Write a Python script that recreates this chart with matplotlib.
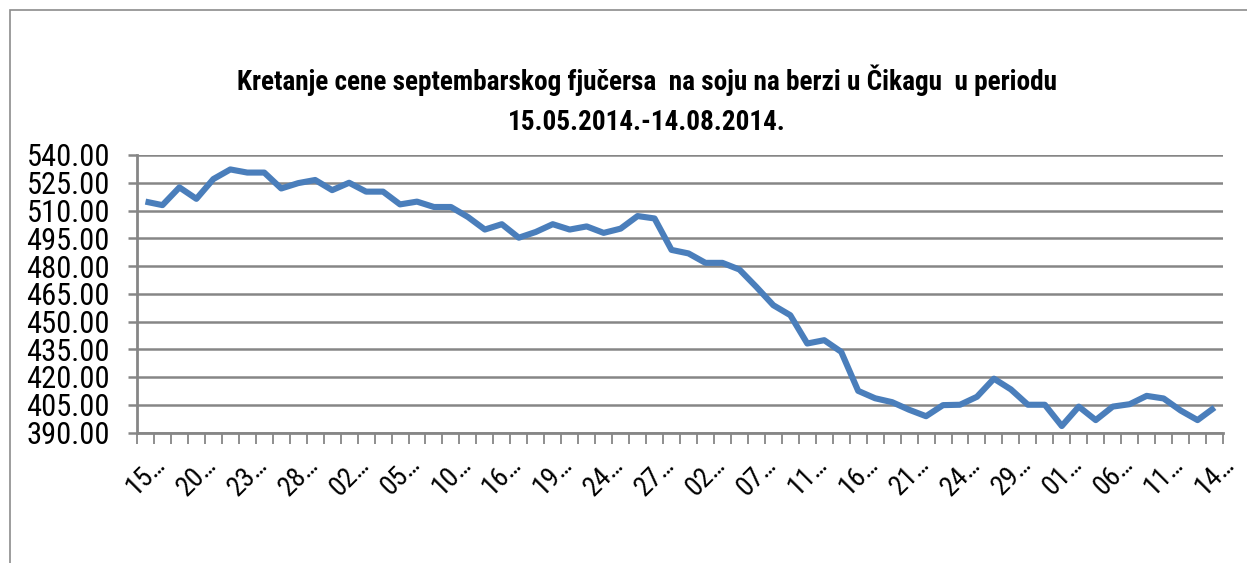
import matplotlib
matplotlib.use("Agg")
import matplotlib.pyplot as plt
from matplotlib import font_manager as fm
from matplotlib.patches import Rectangle
from matplotlib.ticker import FormatStrFormatter, FixedLocator
from matplotlib.transforms import ScaledTranslation

# look for a narrow face (the original uses a condensed Calibri look)
fams = {f.name for f in fm.fontManager.ttflist}
narrow = None
for cand in ["Liberation Sans Narrow", "Arial Narrow", "Roboto Condensed",
             "Open Sans Condensed", "DejaVu Sans Condensed"]:
    if cand in fams:
        narrow = cand
        break
stretch = "normal"
if narrow is None:
    for f in fm.fontManager.ttflist:
        if f.name == "DejaVu Sans" and f.stretch == "condensed":
            narrow, stretch = "DejaVu Sans", "condensed"
            break
if narrow is None:
    narrow = "Liberation Sans"

plt.rcParams['font.family'] = [narrow, 'DejaVu Sans']
plt.rcParams['font.stretch'] = stretch
is_narrow = narrow != "Liberation Sans"

# daily closing prices, 15.05.2014 - 14.08.2014 (64 trading days)
prices = [
    514.8, 512.9, 522.5, 516.3, 527.0, 532.2, 530.5, 530.5, 521.9, 524.8,
    526.5, 521.0, 525.0, 520.2, 520.2, 513.3, 514.8, 511.9, 511.9, 506.5,
    499.7, 502.6, 495.3, 498.4, 502.6, 499.7, 501.4, 497.9, 500.2, 507.0,
    505.7, 488.7, 486.8, 481.7, 481.7, 478.1, 468.7, 458.8, 453.4, 438.1,
    439.9, 433.6, 412.5, 408.5, 406.4, 402.3, 398.8, 404.8, 405.0, 409.3,
    419.1, 413.3, 405.0, 405.0, 393.5, 404.0, 396.7, 404.0, 405.3, 409.8,
    408.4, 401.9, 396.7, 403.5,
]

# every third date is labelled, truncated as in the original
tick_labels = ["15…", "20…", "23…", "28…", "02…", "05…", "10…", "16…",
               "19…", "24…", "27…", "02…", "07…", "11…", "16…", "21…",
               "24…", "29…", "01…", "06…", "11…", "14…"]

title = ("Kretanje cene septembarskog fjučersa  na soju na berzi u Čikagu  u periodu\n"
         "15.05.2014.-14.08.2014.")

W, H = 1247, 563
fig = plt.figure(figsize=(W / 100, H / 100), dpi=100)
fig.patch.set_facecolor("white")

# outer chart border (right and bottom edges fall outside the picture)
fig.patches.append(Rectangle((10 / W, -0.1), 1.2, 1 - 10 / H + 0.1,
                             transform=fig.transFigure, fill=False,
                             edgecolor="#8c8c8c", linewidth=1.2))

ax = fig.add_axes([137 / W, 1 - 432.5 / H, (1223 - 137) / W, (432.5 - 155) / H])

x = list(range(len(prices)))
ax.plot(x, prices, color="#4a7ebb", linewidth=4.4, solid_joinstyle="round",
        solid_capstyle="butt", zorder=3)

ax.set_xlim(-0.5, len(prices) - 0.5)
ax.set_ylim(390, 540)
ax.set_yticks([390 + 15 * k for k in range(11)])
ax.yaxis.set_major_formatter(FormatStrFormatter("%.2f"))
ax.grid(axis="y", color="#868686", linewidth=1.8, zorder=1)
ax.set_axisbelow(True)

ax.set_xticks(x[::3])
ax.set_xticklabels(tick_labels)
ax.xaxis.set_minor_locator(FixedLocator([i - 0.5 for i in range(len(prices) + 1)]))

for s in ["top", "right"]:
    ax.spines[s].set_visible(False)
for s in ["left", "bottom"]:
    ax.spines[s].set_color("#868686")
    ax.spines[s].set_linewidth(2)

ax.tick_params(axis="y", length=6.5, width=1.8, color="#868686",
               labelsize=22 if is_narrow else 19, pad=13)
ax.tick_params(axis="x", which="major", length=0, labelsize=20, pad=20)
ax.tick_params(axis="x", which="minor", length=8, width=1.3, color="#868686")
shift = ScaledTranslation(16 / 100, 0, fig.dpi_scale_trans)
for lab in ax.get_xticklabels():
    lab.set_rotation(45)
    lab.set_rotation_mode("anchor")
    lab.set_ha("right")
    lab.set_va("center")
    lab.set_transform(lab.get_transform() + shift)

fig.text(647 / W, 1 - 100 / H, title, ha="center", va="center",
         fontsize=19.6 if is_narrow else 16.5, fontweight="bold", linespacing=1.6)

fig.savefig("out.png", dpi=100, facecolor="white")
